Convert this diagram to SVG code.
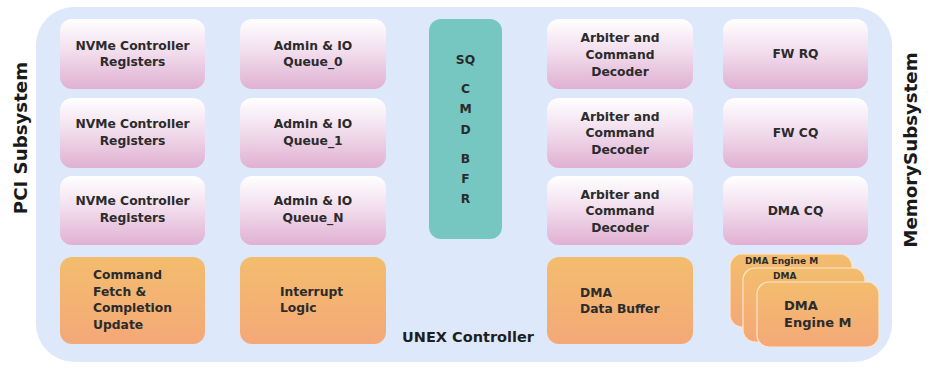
<svg xmlns="http://www.w3.org/2000/svg" width="932" height="372" viewBox="0 0 932 372">
<defs>
<linearGradient id="pink" x1="0" y1="0" x2="0" y2="1">
<stop offset="0" stop-color="#ffffff"/>
<stop offset="0.45" stop-color="#f2dfee"/>
<stop offset="1" stop-color="#e0b0d2"/>
</linearGradient>
<linearGradient id="orange" x1="0" y1="0" x2="0" y2="1">
<stop offset="0" stop-color="#f3bd6d"/>
<stop offset="1" stop-color="#f4a878"/>
</linearGradient>
<style>
text{font-family:"DejaVu Sans",Verdana,sans-serif;font-weight:bold;fill:#2b2b2b;}
.t{font-size:12.3px;text-anchor:middle;}
.l{font-size:12.3px;}
.pk{fill:url(#pink);}
.or{fill:url(#orange);}
.eng{fill:url(#orange);stroke:#fbe6cf;stroke-width:1.2;}
.side{font-size:18.2px;text-anchor:middle;fill:#1a1a1a;}
</style>
</defs>
<rect id="bg" x="36" y="7" width="856" height="355" rx="38" fill="#dde8fb"/>
<text class="side" transform="translate(27,138) rotate(-90)">PCI Subsystem</text>
<text class="side" transform="translate(917,150) rotate(-90)">MemorySubsystem</text>
<g id="nvme0"><rect class="pk" x="60" y="19" width="145" height="70" rx="12"/><text class="t" x="132.5" y="50">NVMe Controller</text><text class="t" x="132.5" y="66">Registers</text></g>
<g id="nvme1"><rect class="pk" x="60" y="98" width="145" height="70" rx="12"/><text class="t" x="132.5" y="128">NVMe Controller</text><text class="t" x="132.5" y="145">Registers</text></g>
<g id="nvme2"><rect class="pk" x="60" y="176" width="145" height="69" rx="12"/><text class="t" x="132.5" y="205">NVMe Controller</text><text class="t" x="132.5" y="222">Registers</text></g>
<g id="cmdfetch"><rect class="or" x="60" y="257" width="145" height="87" rx="12"/><text class="l" x="93" y="279">Command</text><text class="l" x="93" y="296">Fetch &amp;</text><text class="l" x="93" y="312">Completion</text><text class="l" x="93" y="329">Update</text></g>
<g id="q0"><rect class="pk" x="240" y="19" width="146" height="70" rx="12"/><text class="t" x="313" y="50">Admin &amp; IO</text><text class="t" x="313" y="66">Queue_0</text></g>
<g id="q1"><rect class="pk" x="240" y="98" width="146" height="70" rx="12"/><text class="t" x="313" y="128">Admin &amp; IO</text><text class="t" x="313" y="145">Queue_1</text></g>
<g id="qn"><rect class="pk" x="240" y="176" width="146" height="69" rx="12"/><text class="t" x="313" y="205">Admin &amp; IO</text><text class="t" x="313" y="222">Queue_N</text></g>
<g id="intr"><rect class="or" x="240" y="257" width="146" height="87" rx="12"/><text class="l" x="280" y="296">Interrupt</text><text class="l" x="280" y="312">Logic</text></g>
<g id="sq"><rect x="429" y="19" width="73" height="220" rx="12" fill="#76c7c2"/>
<text class="t" x="465.5" y="64">SQ</text><text class="t" x="465.5" y="93">C</text><text class="t" x="465.5" y="113">M</text><text class="t" x="465.5" y="134">D</text><text class="t" x="465.5" y="163">B</text><text class="t" x="465.5" y="183">F</text><text class="t" x="465.5" y="203">R</text></g>
<g id="arb0"><rect class="pk" x="547" y="19" width="146" height="70" rx="12"/><text class="t" x="620" y="42">Arbiter and</text><text class="t" x="620" y="59">Command</text><text class="t" x="620" y="76">Decoder</text></g>
<g id="arb1"><rect class="pk" x="547" y="98" width="146" height="70" rx="12"/><text class="t" x="620" y="121">Arbiter and</text><text class="t" x="620" y="137">Command</text><text class="t" x="620" y="154">Decoder</text></g>
<g id="arb2"><rect class="pk" x="547" y="176" width="146" height="69" rx="12"/><text class="t" x="620" y="199">Arbiter and</text><text class="t" x="620" y="215">Command</text><text class="t" x="620" y="232">Decoder</text></g>
<g id="dmabuf"><rect class="or" x="547" y="257" width="146" height="87" rx="12"/><text class="l" x="580" y="297">DMA</text><text class="l" x="580" y="313">Data Buffer</text></g>
<g id="fwrq"><rect class="pk" x="723" y="19" width="145" height="70" rx="12"/><text class="t" x="795.5" y="58">FW RQ</text></g>
<g id="fwcq"><rect class="pk" x="723" y="98" width="145" height="70" rx="12"/><text class="t" x="795.5" y="137">FW CQ</text></g>
<g id="dmacq"><rect class="pk" x="723" y="176" width="145" height="69" rx="12"/><text class="t" x="795.5" y="215">DMA CQ</text></g>
<g id="eng0"><rect class="eng" x="730" y="254" width="122" height="73" rx="12"/><text x="745" y="264" style="font-size:9px">DMA Engine M</text></g>
<g id="eng1"><rect class="eng" x="743" y="268" width="122" height="74" rx="12"/><text x="773" y="279" style="font-size:9px">DMA</text></g>
<g id="eng2"><rect class="eng" x="757" y="282" width="122" height="65" rx="12"/><text x="784" y="310" style="font-size:13px">DMA</text><text x="784" y="327" style="font-size:13px">Engine M</text></g>
<g id="connectors"></g>
<text x="468" y="342" style="font-size:14.5px;text-anchor:middle;fill:#1f1f1f">UNEX Controller</text>
</svg>
